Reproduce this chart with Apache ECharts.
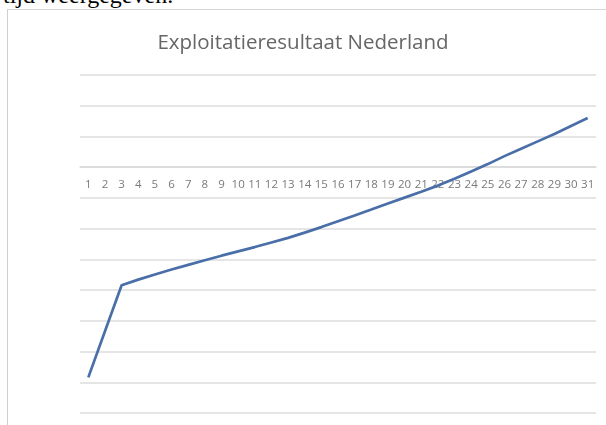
<!DOCTYPE html>
<html>
<head>
<meta charset="utf-8">
<script src="https://cdn.jsdelivr.net/npm/echarts@6/dist/echarts.min.js"></script>
<style>
  html, body { margin: 0; padding: 0; background: #fff; width: 606px; height: 425px; overflow: hidden; }
  #doc { position: absolute; left: 3px; top: -18px; font-family: "Liberation Serif", "DejaVu Serif", serif; font-size: 24px; color: #000; white-space: nowrap; }
  #frame { position: absolute; left: 7px; top: 9px; width: 620px; height: 440px; border-left: 1px solid #cfcfcf; border-top: 1px solid #d6d6d6; }
  #chart { position: absolute; left: 0; top: 0; width: 606px; height: 425px; }
</style>
</head>
<body>
<div id="doc">tijd weergegeven.</div>
<div id="frame"></div>
<div id="chart"></div>
<script>
const titleText = "Exploitatieresultaat Nederland";
const categories = ["1","2","3","4","5","6","7","8","9","10","11","12","13","14","15","16","17","18","19","20","21","22","23","24","25","26","27","28","29","30","31"];
const resultaat = [-6.84, -5.34, -3.84, -3.66, -3.49, -3.33, -3.18, -3.03, -2.88, -2.74, -2.60, -2.45, -2.30, -2.13, -1.95, -1.76, -1.57, -1.38, -1.18, -0.99, -0.80, -0.60, -0.38, -0.14, 0.10, 0.36, 0.60, 0.84, 1.08, 1.34, 1.60];
const yMin = -8, yMax = 3, yStep = 1;

const gridTop = 75, gridBottom = 12, H = 425;
const plotH = H - gridTop - gridBottom;
// distance from top of plot to the zero line, derived from the axis range
const zeroOffset = plotH * (yMax - 0) / (yMax - yMin);

const chart = echarts.init(document.getElementById('chart'), null, { renderer: 'canvas' });
chart.setOption({
  animation: false,
  backgroundColor: 'transparent',
  title: {
    text: titleText,
    left: 'center',
    top: 28,
    textStyle: { fontFamily: 'Open Sans', fontSize: 20.5, fontWeight: 'normal', color: '#666666' }
  },
  grid: { left: 80, right: 10, top: gridTop, bottom: gridBottom, containLabel: false },
  xAxis: {
    type: 'category',
    data: categories,
    boundaryGap: true,
    position: 'top',
    offset: -zeroOffset,
    axisLine: { onZero: false, lineStyle: { color: '#d9d9d9', width: 1.5 } },
    axisTick: { show: false },
    axisLabel: { inside: true, interval: 0, margin: 12, fontFamily: 'Open Sans', fontSize: 11.5, color: '#7a7a7a' }
  },
  yAxis: {
    type: 'value',
    min: yMin, max: yMax, interval: yStep,
    axisLine: { show: false },
    axisTick: { show: false },
    axisLabel: { show: false },
    splitLine: { lineStyle: { color: '#dcdcdc', width: 1.5 } }
  },
  series: [{
    type: 'line',
    data: resultaat,
    showSymbol: false,
    symbol: 'none',
    lineStyle: { color: '#4a6fa8', width: 2.7 }
  }]
});
</script>
</body>
</html>
